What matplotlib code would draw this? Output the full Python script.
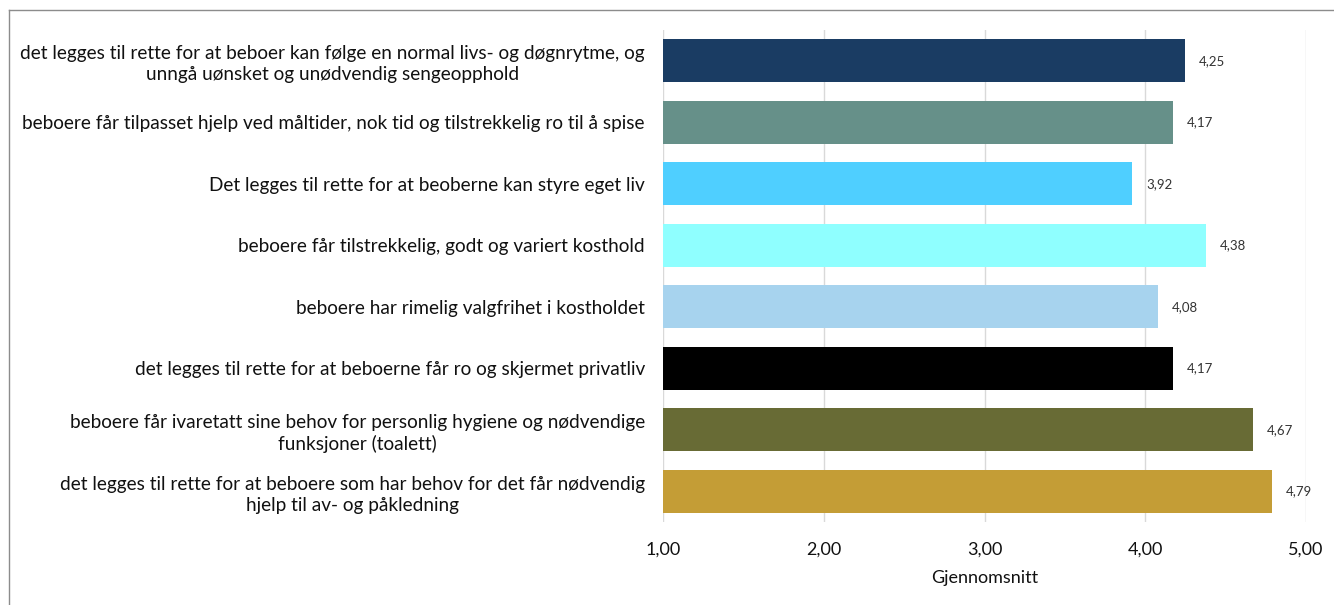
import matplotlib
matplotlib.use("Agg")
import matplotlib.pyplot as plt
from matplotlib.ticker import FuncFormatter
from matplotlib.lines import Line2D

categories = [
    "det legges til rette for at beboer kan følge en normal livs- og døgnrytme, og\nunngå uønsket og unødvendig sengeopphold",
    "beboere får tilpasset hjelp ved måltider, nok tid og tilstrekkelig ro til å spise",
    "Det legges til rette for at beoberne kan styre eget liv",
    "beboere får tilstrekkelig, godt og variert kosthold",
    "beboere har rimelig valgfrihet i kostholdet",
    "det legges til rette for at beboerne får ro og skjermet privatliv",
    "beboere får ivaretatt sine behov for personlig hygiene og nødvendige\nfunksjoner (toalett)",
    "det legges til rette for at beboere som har behov for det får nødvendig\nhjelp til av- og påkledning",
]
values = [4.25, 4.17, 3.92, 4.38, 4.08, 4.17, 4.67, 4.79]
colors = ["#1A3C63", "#669089", "#4FCFFF", "#8FFFFF", "#A7D3EE", "#000000", "#686B35", "#C49D36"]
xticks = [1, 2, 3, 4, 5]
xlabel = "Gjennomsnitt"

plt.rcParams['font.family'] = ['Lato', 'DejaVu Sans']

fig = plt.figure(figsize=(13.34, 6.05), dpi=100)
ax = fig.add_axes([663/1334, 1-522/605, (1306-663)/1334, (522-30)/605])

ypos = list(range(len(categories)))
ax.barh(ypos, values, height=0.7, color=colors, zorder=3)
ax.set_xlim(1, 5)
ax.set_ylim(len(categories)-0.5, -0.5)
ax.set_yticks(ypos)
ax.set_yticklabels(categories, fontsize=13.7, color="#111111")
for lab in ax.get_yticklabels():
    lab.set_multialignment('center')
    lab.set_linespacing(1.3)
ax.set_xticks(xticks)
ax.xaxis.set_major_formatter(FuncFormatter(lambda v, p: f"{v:.2f}".replace(".", ",")))
ax.tick_params(axis='x', labelsize=13, length=0, pad=14, colors="#111111")
ax.tick_params(axis='y', length=0, pad=13)
ax.grid(axis='x', color="#D9D9D9", linewidth=1, zorder=0)
for s in ax.spines.values():
    s.set_visible(False)
ax.set_xlabel(xlabel, fontsize=13, color="#111111", labelpad=9)

for y, v in zip(ypos, values):
    ax.annotate(f"{v:.2f}".replace(".", ","), xy=(v, y), xytext=(10, 0),
                textcoords="offset points", va="center", ha="left",
                fontsize=9.5, color="#333333")

# outer chart border (top and left)
fig.add_artist(Line2D([9/1334, 9/1334], [0, 1-10/605], transform=fig.transFigure, color="#8C8C8C", lw=1))
fig.add_artist(Line2D([9/1334, 1], [1-10/605, 1-10/605], transform=fig.transFigure, color="#8C8C8C", lw=1))

fig.savefig("out.png", dpi=100, facecolor="white")
